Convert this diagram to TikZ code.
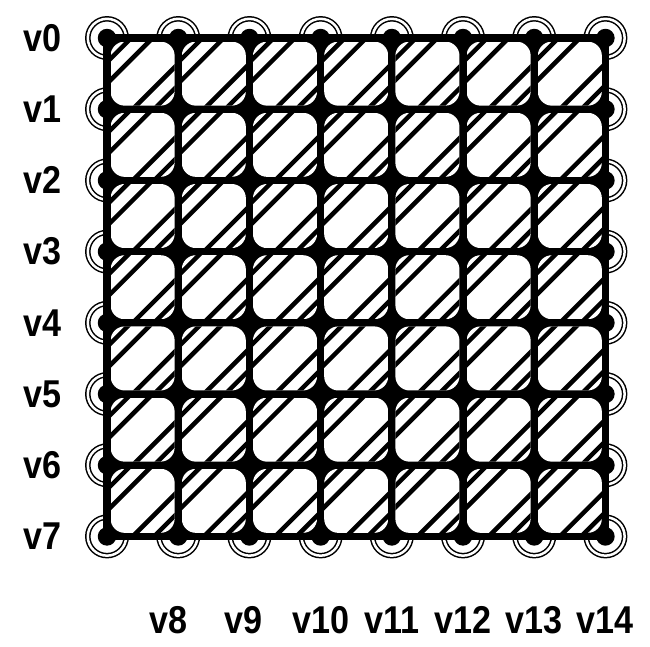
\documentclass[tikz,border=0pt]{standalone}
\usepackage{fontspec}
\setmainfont{Liberation Sans}
\newfontfamily\lblfont{Liberation Sans}[FakeStretch=0.88]
\usetikzlibrary{positioning}

\begin{document}
\begin{tikzpicture}[
  vertex/.style={circle, fill=black, inner sep=0pt, minimum size=0.26cm},
  edge/.style={line width=2.8pt},
  hatch/.style={line width=1.8pt},
  halo/.style={draw=black, double=white, double distance=1pt, line width=0.6pt},
  lbl/.style={font=\lblfont\fontsize{15.5}{15.5}\selectfont\bfseries, inner sep=0pt}
]
\useasboundingbox (-1.503,0.534) rectangle (7.626,-8.539);

%% ============ Vertex positions (8 x 8 grid, 1cm pitch) ============
\foreach \i in {0,...,7}
  \foreach \j in {0,...,7}
    \coordinate (p\i-\j) at (\i,-\j);

%% ============ Halos round the boundary vertices ============
\foreach \i in {1,...,6} {
  \draw[halo] ([shift={(180:0.27)}]p\i-0) arc[start angle=180, end angle=0, radius=0.27];
  \draw[halo] ([shift={(180:0.27)}]p\i-7) arc[start angle=180, end angle=360, radius=0.27];
  \draw[halo] ([shift={(90:0.27)}]p0-\i) arc[start angle=90, end angle=270, radius=0.27];
  \draw[halo] ([shift={(90:0.27)}]p7-\i) arc[start angle=90, end angle=-90, radius=0.27];
}
\draw[halo] (p0-0) circle[radius=0.27];
\draw[halo] (p7-7) circle[radius=0.27];
\draw[halo] ([shift={(90:0.27)}]p0-7) arc[start angle=90, end angle=360, radius=0.27];
\draw[halo] ([shift={(180:0.27)}]p7-0) arc[start angle=180, end angle=-90, radius=0.27];

%% ============ Cells: black ground, white rounded pane, hatching ============
\fill[black] (-0.05,0.05) rectangle (7.05,-7.05);
\foreach \i in {0,...,6}
  \foreach \j in {0,...,6} {
    \begin{scope}
      \clip[rounded corners=0.2cm] (\i+0.05,-\j-0.05) rectangle (\i+0.95,-\j-0.95);
      \fill[white] (\i,-\j) rectangle (\i+1,-\j-1);
      \foreach \c in {-0.96,-0.66,-0.36,0.36,0.66,0.96}
        \draw[hatch] (\i+0.5-\c/2-1,-\j-0.5+\c/2-1) -- (\i+0.5-\c/2+1,-\j-0.5+\c/2+1);
    \end{scope}
  }

%% ============ Edges and vertices ============
\foreach \i in {0,...,7}
  \foreach \j in {0,...,7}
    \node[vertex] (n\i-\j) at (p\i-\j) {};
\foreach \i [evaluate=\i as \k using int(\i+1)] in {0,...,6}
  \foreach \j in {0,...,7} {
    \draw[edge] (n\i-\j) -- (n\k-\j);
    \draw[edge] (n\j-\i) -- (n\j-\k);
  }

%% ============ Labels: rows on the left, columns below ============
\foreach \j in {0,...,7}
  \node[lbl] (l\j) at ([xshift=-0.9cm]p0-\j) {v\j};
\foreach \i/\dx in {1/-0.14,2/-0.08,3/0,4/0,5/0,6/0,7/0} {
  \pgfmathtruncatemacro{\m}{\i+7}
  \node[lbl] (l\m) at ([shift={(\dx,-1.17)}]p\i-7) {v\m};
}

\end{tikzpicture}
\end{document}
